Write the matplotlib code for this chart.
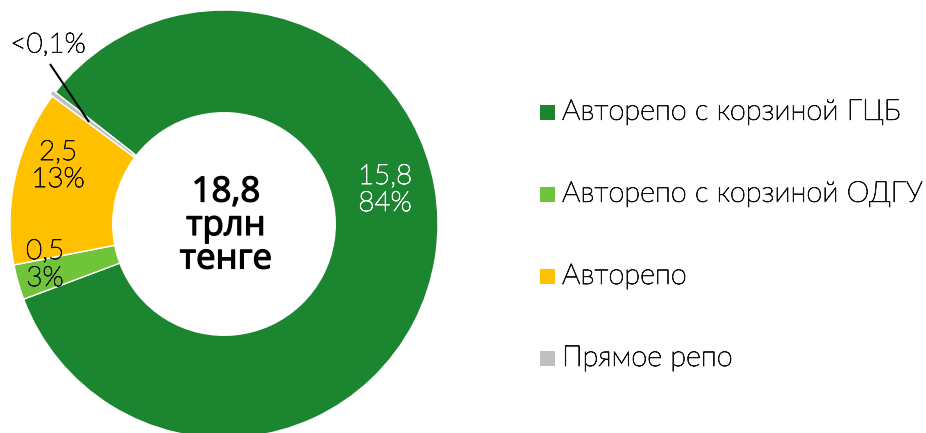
import matplotlib
matplotlib.use("Agg")
import matplotlib.pyplot as plt
from matplotlib.patches import Rectangle
import matplotlib.patheffects as pe

plt.rcParams['font.family'] = ['Lato', 'DejaVu Sans']

# Repo market structure, trillion tenge
categories = ["Авторепо с корзиной ГЦБ", "Авторепо с корзиной ОДГУ", "Авторепо", "Прямое репо"]
values = [15.8, 0.5, 2.5, 0.07]
value_labels = ["15,8\n84%", "0,5\n3%", "2,5\n13%", "<0,1%"]
colors = ["#1b8530", "#70c43a", "#ffc000", "#bfbfbf"]
total_label = "18,8\nтрлн\nтенге"

W, H = 926, 433
fig = plt.figure(figsize=(W / 100, H / 100), dpi=100)

# donut axes: centre (224, 224) px from top-left, outer radius 214 px
cx, cy, R = 224, 224, 214
ax = fig.add_axes([(cx - R) / W, (H - cy - R) / H, 2 * R / W, 2 * R / H])
wedges, _ = ax.pie(values, colors=colors, startangle=142, counterclock=False,
                   radius=1.0, explode=[0, 0, 0, 0.015],
                   wedgeprops=dict(width=0.48, edgecolor="white", linewidth=1.0))
ax.set_xlim(-1, 1)
ax.set_ylim(-1, 1)
ax.set_aspect("equal")
ax.axis("off")


def px(x, y):
    """pixel position (from top-left) to data coordinates of the donut axes"""
    return (x - cx) / R, (cy - y) / R


def thin(color, lw=0.6):
    return [pe.withStroke(linewidth=lw, foreground=color)]


dark = "#111111"
text_kw = dict(ha="center", va="center", fontsize=20, fontweight="light",
               linespacing=1.1)
ax.text(*px(385, 190), value_labels[0], color="white",
        path_effects=thin("white"), **text_kw)
ax.text(*px(45, 265), value_labels[1], color=dark, path_effects=thin(dark),
        **text_kw)
ax.text(*px(58, 166), value_labels[2], color=dark, path_effects=thin(dark),
        **text_kw)
ax.text(*px(48, 45), value_labels[3], color=dark, path_effects=thin(dark),
        ha="center", va="center", fontsize=20, fontweight="light")
x0, y0 = px(50, 64)
x1, y1 = px(89, 122)
ax.plot([x0, x1], [y0, y1], color="black", lw=1.5, solid_capstyle="butt")

ax.text(*px(226, 226), total_label, ha="center", va="center",
        fontsize=25, fontweight="normal", color="black", linespacing=0.98,
        family=["Open Sans", "DejaVu Sans"], path_effects=thin("black", 0.9))

# legend drawn at the right
rows_y = [112, 194, 276, 358]
for cat, col, yy in zip(categories, colors, rows_y):
    fig.patches.append(Rectangle((540 / W, (H - yy - 7.5) / H), 15 / W, 15 / H,
                                 transform=fig.transFigure, facecolor=col,
                                 edgecolor="none"))
    fig.text(562 / W, (H - yy) / H, cat, ha="left", va="center",
             fontsize=20.8, fontweight="light", color=dark,
             path_effects=thin(dark))

fig.savefig("out.png", dpi=100)
